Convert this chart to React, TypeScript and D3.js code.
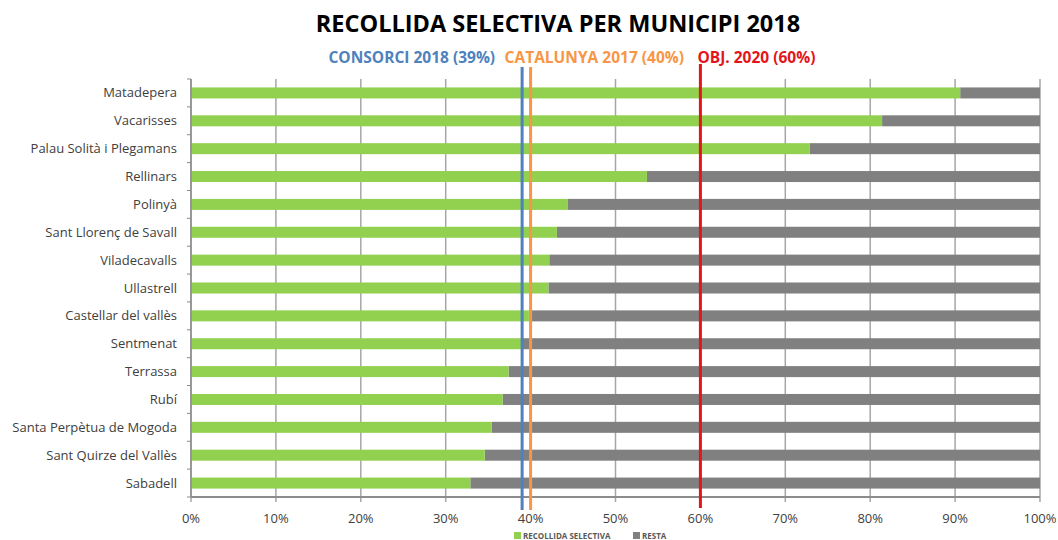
import React from "react";
import * as d3 from "d3";

const municipalities = [
  "Matadepera",
  "Vacarisses",
  "Palau Solità i Plegamans",
  "Rellinars",
  "Polinyà",
  "Sant Llorenç de Savall",
  "Viladecavalls",
  "Ullastrell",
  "Castellar del vallès",
  "Sentmenat",
  "Terrassa",
  "Rubí",
  "Santa Perpètua de Mogoda",
  "Sant Quirze del Vallès",
  "Sabadell",
];
const selectiveShare = [90.6, 81.4, 72.9, 53.7, 44.4, 43.1, 42.2, 42.1, 39.8, 39.0, 37.4, 36.7, 35.4, 34.6, 32.9];
const xTicks = [0, 10, 20, 30, 40, 50, 60, 70, 80, 90, 100];
const refLines = [
  { label: "CONSORCI 2018 (39%)", value: 39, color: "#4F81BD", anchor: "end", dx: -27 },
  { label: "CATALUNYA 2017 (40%)", value: 40, color: "#F79646", anchor: "start", dx: -26 },
  { label: "OBJ. 2020 (60%)", value: 60, color: "#E3151B", anchor: "start", dx: -3 },
];
const legendItems = [
  { label: "RECOLLIDA SELECTIVA", color: "#92D050" },
  { label: "RESTA", color: "#808080" },
];

const W = 1058;
const H = 540;
const M = { left: 191, right: 18, top: 79, bottom: 43 };
const FONT = "'Open Sans', 'DejaVu Sans', sans-serif";

export default function App() {
  const x = d3.scaleLinear().domain([0, 100]).range([M.left, W - M.right]);
  const y = d3.scaleBand().domain(municipalities).range([M.top, H - M.bottom]).paddingInner(0).paddingOuter(0);
  const barH = 11;
  const bw = y.bandwidth();
  const plotBottom = H - M.bottom;

  return (
    <svg width={W} height={H} style={{ position: "absolute", left: 0, top: 0, background: "#fff" }} fontFamily={FONT}>
      <text x={558} y={32} textAnchor="middle" fontSize={23.5} fontWeight={700} fill="#000">
        RECOLLIDA SELECTIVA PER MUNICIPI 2018
      </text>

      {/* vertical gridlines */}
      {xTicks.map((t) => (
        <line key={"g" + t} x1={x(t)} x2={x(t)} y1={M.top} y2={plotBottom + 5} stroke="#a6a6a6" strokeWidth={1.5} />
      ))}

      {/* bars */}
      {municipalities.map((m, i) => {
        const cy = (y(m) as number) + bw / 2;
        const v = selectiveShare[i];
        return (
          <g key={m}>
            <rect x={x(v)} y={cy - barH / 2} width={x(100) - x(v)} height={barH} fill="#808080" />
            <rect x={x(0)} y={cy - barH / 2} width={x(v) - x(0)} height={barH} fill="#92D050" />
          </g>
        );
      })}

      {/* y axis */}
      <line x1={M.left} x2={M.left} y1={M.top} y2={plotBottom} stroke="#8c8c8c" strokeWidth={1.5} />
      {d3.range(municipalities.length + 1).map((k) => (
        <line key={"yt" + k} x1={M.left - 4} x2={M.left} y1={M.top + k * bw} y2={M.top + k * bw} stroke="#8c8c8c" strokeWidth={1} />
      ))}
      {/* x axis */}
      <line x1={M.left} x2={x(100)} y1={plotBottom} y2={plotBottom} stroke="#8c8c8c" strokeWidth={2} />

      {municipalities.map((m) => (
        <text key={"l" + m} x={177} y={(y(m) as number) + bw / 2} dy="0.35em" textAnchor="end" fontSize={13} fill="#404040">
          {m}
        </text>
      ))}

      {xTicks.map((t) => (
        <text key={"xl" + t} x={x(t)} y={523} textAnchor="middle" fontSize={13} fill="#404040">
          {t}%
        </text>
      ))}

      {/* reference lines */}
      {refLines.map((r) => (
        <g key={r.label}>
          <line x1={x(r.value)} x2={x(r.value)} y1={r.value === 60 ? 64 : 67} y2={r.value === 60 ? 508 : 510} stroke={r.color} strokeWidth={3} />
          <text x={x(r.value) + r.dx} y={63} textAnchor={r.anchor as any} fontSize={15.5} fontWeight={700} fill={r.color}>
            {r.label}
          </text>
        </g>
      ))}

      {/* legend */}
      <g>
        <rect x={514} y={532} width={7} height={7} fill={legendItems[0].color} />
        <text x={523} y={539} fontSize={8} fontWeight={700} fill="#595959">{legendItems[0].label}</text>
        <rect x={633} y={532} width={7} height={7} fill={legendItems[1].color} />
        <text x={642} y={539} fontSize={8} fontWeight={700} fill="#595959">{legendItems[1].label}</text>
      </g>
    </svg>
  );
}
